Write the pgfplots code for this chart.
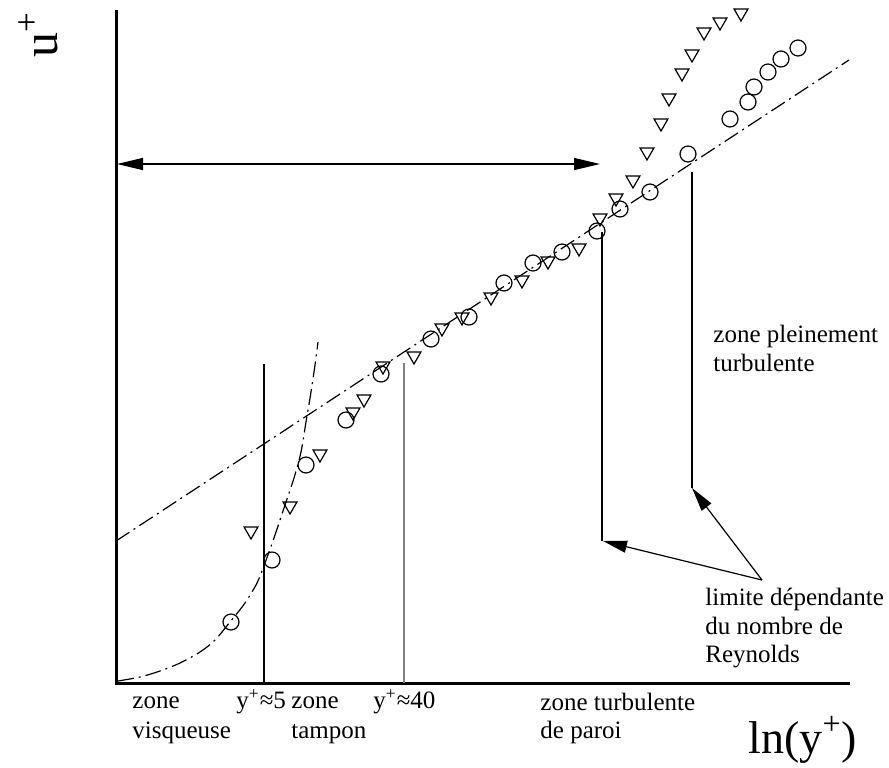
\documentclass[border=0pt]{standalone}
\usepackage{fontspec}
\setmainfont{Liberation Serif}
\usepackage{pgfplots}
\pgfplotsset{compat=1.18}
\usetikzlibrary{arrows.meta}
\begin{document}
\begin{tikzpicture}
\begin{axis}[
  scale only axis, width=444.5pt, height=383.5pt,
  xmin=0, xmax=889, ymin=0, ymax=767, y dir=reverse,
  axis lines=none, clip=false,
  ]
\path (axis cs:0,0) (axis cs:889,767);
% axes
\draw[line width=1.5pt] (axis cs:116,10) -- (axis cs:116,683) -- (axis cs:850,683);
% log law line
\addplot[line width=0.6pt, dash pattern=on 8pt off 2.5pt on 1pt off 2.5pt] coordinates {(116,541) (849,60)};
% viscous sublayer curve
\addplot[smooth, tension=0.5, line width=0.6pt, dash pattern=on 8pt off 2.5pt on 1pt off 2.5pt] coordinates {
(118,681) (140,677) (160,671) (180,663) (200,652) (215,640) (230,622) (245,603) (257,583) (265,563)
(275,535) (285,505) (294,478) (301,452) (306,422) (311,392) (315,365) (318,342)};
% circles
\addplot[only marks, mark=o, mark size=4pt, mark options={line width=0.6pt}] coordinates {
(231,622) (272,560) (306,465) (346,420) (381,374) (431,339) (469,317) (504,283) (533,263) (562,252)
(597,231) (620,209) (650,192) (688,154) (730,119) (748,102) (754,87) (768,72) (781,59) (798,48)};
% triangles
\addplot[only marks, mark=triangle, mark size=4pt, mark options={rotate=180, line width=0.6pt}] coordinates {
(251,531) (290,506) (320,454) (353,412) (364,399) (383,366) (414,356) (442,328) (462,317) (491,297)
(522,280) (548,261) (579,248) (600,218) (616,198) (633,180) (647,152) (661,123) (669,98) (682,73)
(692,54) (704,32) (720,22) (741,13)};
% vertical lines
\draw[line width=0.6pt] (axis cs:264,364) -- (axis cs:264,683);
\draw[line width=0.6pt, gray] (axis cs:404,363) -- (axis cs:404,683);
\draw[line width=0.6pt] (axis cs:602,232) -- (axis cs:602,541);
\draw[line width=0.6pt] (axis cs:692,172) -- (axis cs:692,488);
% double arrow
\draw[line width=0.7pt, {Triangle[length=13pt,width=6pt]}-{Triangle[length=13pt,width=6pt]}] (axis cs:117,164) -- (axis cs:600,164);
% arrows to limits
\draw[line width=0.6pt, -{Triangle[length=12pt,width=6pt]}] (axis cs:762,580) -- (axis cs:603,541);
\draw[line width=0.6pt, -{Triangle[length=12pt,width=6pt]}] (axis cs:762,580) -- (axis cs:692,488);
% labels
\tikzset{lbl/.style={anchor=base west, inner sep=0pt, font=\fontsize{12.5}{15}\selectfont}}
\node[lbl] at (axis cs:132,708) {zone};
\node[lbl] at (axis cs:132,738) {visqueuse};
\node[lbl] at (axis cs:236,708) {y\textsuperscript{+}≈5};
\node[lbl] at (axis cs:291,708) {zone};
\node[lbl] at (axis cs:291,738) {tampon};
\node[lbl] at (axis cs:373,708) {y\textsuperscript{+}≈40};
\node[lbl] at (axis cs:540,710) {zone turbulente};
\node[lbl] at (axis cs:540,738) {de paroi};
\node[lbl] at (axis cs:713,342) {zone pleinement};
\node[lbl] at (axis cs:713,371) {turbulente};
\node[lbl] at (axis cs:705,605) {limite dépendante};
\node[lbl] at (axis cs:705,634) {du nombre de};
\node[lbl] at (axis cs:705,662) {Reynolds};
\node[anchor=base west, inner sep=0pt, font=\fontsize{23}{26}\selectfont] at (axis cs:748,753) {ln(y\textsuperscript{+})};
\node[anchor=base west, inner sep=0pt, rotate=90, font=\fontsize{25}{28}\selectfont] at (axis cs:57,58) {u\textsuperscript{+}};
\end{axis}
\end{tikzpicture}
\end{document}
